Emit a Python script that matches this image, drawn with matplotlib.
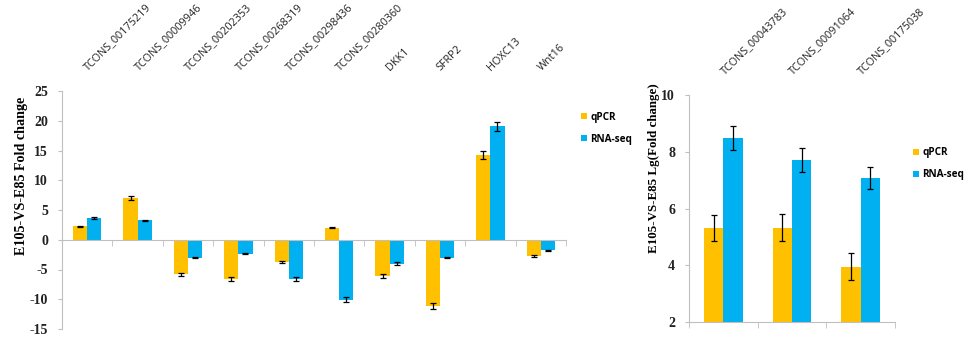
import matplotlib
matplotlib.use("Agg")
import matplotlib.pyplot as plt
import numpy as np
from matplotlib.transforms import blended_transform_factory, offset_copy

# ---- data ----
left_genes = ["TCONS_00175219", "TCONS_00009946", "TCONS_00202353", "TCONS_00268319",
              "TCONS_00298436", "TCONS_00280360", "DKK1", "SFRP2", "HOXC13", "Wnt16"]
left_qpcr = [2.24, 7.0, -5.83, -6.55, -3.75, 2.0, -6.05, -11.1, 14.2, -2.75]
left_qpcr_err = [0.15, 0.35, 0.3, 0.3, 0.15, 0.1, 0.3, 0.5, 0.7, 0.12]
left_rna = [3.7, 3.25, -3.03, -2.35, -6.6, -10.1, -4.0, -3.03, 19.05, -1.75]
left_rna_err = [0.2, 0.15, 0.1, 0.1, 0.3, 0.4, 0.2, 0.1, 0.8, 0.1]

right_genes = ["TCONS_00043783", "TCONS_00091064", "TCONS_00175038"]
right_qpcr = [5.32, 5.33, 3.95]
right_qpcr_err = [0.46, 0.47, 0.47]
right_rna = [8.48, 7.72, 7.09]
right_rna_err = [0.41, 0.42, 0.39]

left_yticks = [25, 20, 15, 10, 5, 0, -5, -10, -15]
right_yticks = [10, 8, 6, 4, 2]

YELLOW = "#FFC000"
BLUE = "#00B0F0"
GRAY = "#BFBFBF"
BW = 0.28

fig = plt.figure(figsize=(9.7, 3.4), dpi=100)
serif = ["Liberation Serif", "DejaVu Serif"]
sans = ["Open Sans", "DejaVu Sans"]


def style_axes(ax, ylabel, yticks, labels, ylsize, ylpos):
    ax.spines["top"].set_visible(False)
    ax.spines["right"].set_visible(False)
    ax.spines["left"].set_color(GRAY)
    ax.spines["bottom"].set_color(GRAY)
    ax.set_yticks(yticks)
    ax.set_yticklabels([str(t) for t in yticks], fontfamily=serif,
                       fontweight="bold", fontsize=10, color="#222222")
    ax.tick_params(axis="y", length=3, color=GRAY, pad=7)
    n = len(labels)
    ax.set_xlim(-0.5, n - 0.5)
    ax.set_xticks([])
    ax.set_xticks(np.arange(-0.5, n, 1.0), minor=True)
    ax.tick_params(axis="x", which="minor", length=4, color=GRAY, direction="out",
                   labelbottom=False)
    ax.set_ylabel(ylabel, fontfamily=serif, fontweight="bold", fontsize=ylsize)
    ax.yaxis.set_label_coords(*ylpos)
    tr = blended_transform_factory(ax.transData, ax.transAxes)
    tr = offset_copy(tr, fig=fig, x=3, y=18, units="dots")
    for i, g in enumerate(labels):
        ax.text(i, 1.0, g, transform=tr, rotation=45, rotation_mode="anchor",
                ha="left", va="bottom", fontfamily=sans, fontsize=7.8,
                color="#222222")


def draw_bars(ax, q, qe, r, re_):
    x = np.arange(len(q))
    ek = dict(ecolor="black", elinewidth=0.9, capsize=2.5, capthick=0.9)
    ax.bar(x - BW / 2, q, BW, color=YELLOW, yerr=qe, error_kw=ek, label="qPCR", zorder=2)
    ax.bar(x + BW / 2, r, BW, color=BLUE, yerr=re_, error_kw=ek, label="RNA-seq", zorder=2)


leg_kw = dict(loc="upper left", frameon=False, handlelength=0.6, handleheight=0.6,
              handletextpad=0.35, labelspacing=1.1, borderaxespad=0, borderpad=0,
              prop={"family": sans, "size": 7.2, "weight": "bold"})

# ---- left panel ----
ax1 = fig.add_axes([62 / 970, 11 / 340, 504 / 970, 238 / 340])
draw_bars(ax1, left_qpcr, left_qpcr_err, left_rna, left_rna_err)
ax1.set_ylim(-15, 25)
ax1.spines["bottom"].set_position(("data", 0))
style_axes(ax1, "E105-VS-E85 Fold change", left_yticks, left_genes, 10.2, (-0.068, 0.643))
ax1.legend(bbox_to_anchor=(1.03, 0.913), **leg_kw)

# ---- right panel ----
ax2 = fig.add_axes([689 / 970, 18 / 340, 206 / 970, 227 / 340])
draw_bars(ax2, right_qpcr, right_qpcr_err, right_rna, right_rna_err)
ax2.set_ylim(2, 10)
style_axes(ax2, "E105-VS-E85 Lg(Fold change)", right_yticks, right_genes, 9.4, (-0.14, 0.68))
ax2.legend(bbox_to_anchor=(1.085, 0.77), **leg_kw)

fig.savefig("out.png", dpi=100)
